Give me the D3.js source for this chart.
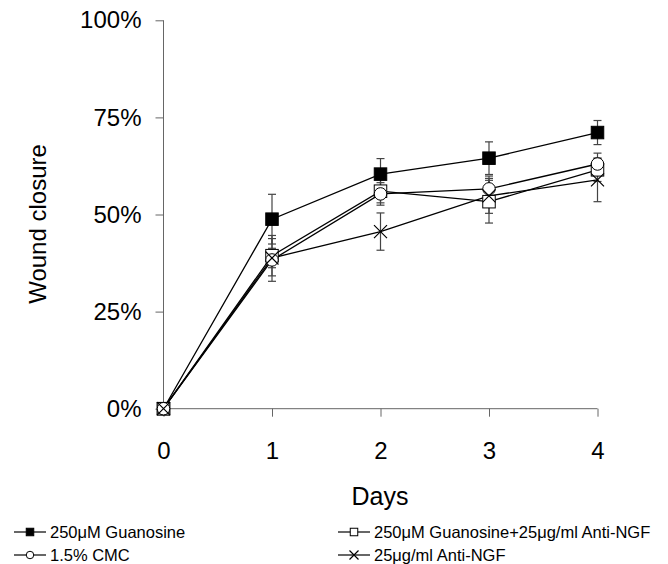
<!DOCTYPE html>
<html>
<head>
<meta charset="utf-8">
<script src="https://cdn.jsdelivr.net/npm/d3@7"></script>
<style>
  body { margin: 0; background: #fff; }
  text { font-family: "Liberation Sans", Arial, sans-serif; }
</style>
</head>
<body>
<div id="chart"></div>
<script>
// jours de mesure
var days = [0, 1, 2, 3, 4];
var yTicks = [0, 0.25, 0.5, 0.75, 1];

// valeurs moyennes (fraction de fermeture)
var guanosine = [0, 0.488, 0.604, 0.645, 0.711];
var guanosineErr = [0, 0.064, 0.040, 0.042, 0.031];
var guaAntiNgf = [0, 0.394, 0.560, 0.533, 0.615];
var guaAntiNgfErr = [0, 0.052, 0.030, 0.055, 0.030];
var cmc = [0, 0.383, 0.553, 0.566, 0.630];
var cmcErr = [0, 0.055, 0.029, 0.033, 0.028];
var antiNgf = [0, 0.388, 0.456, 0.548, 0.589];
var antiNgfErr = [0, 0.025, 0.048, 0.045, 0.056];

var seriesNames = ["250\u03bcM Guanosine", "250\u03bcM Guanosine+25\u03bcg/ml Anti-NGF", "1.5% CMC", "25\u03bcg/ml Anti-NGF"];
var seriesSymbols = ["fsquare", "osquare", "circle", "cross"];

var series = [
  {name: seriesNames[0], sym: seriesSymbols[0], vals: guanosine, err: guanosineErr},
  {name: seriesNames[1], sym: seriesSymbols[1], vals: guaAntiNgf, err: guaAntiNgfErr},
  {name: seriesNames[2], sym: seriesSymbols[2], vals: cmc, err: cmcErr},
  {name: seriesNames[3], sym: seriesSymbols[3], vals: antiNgf, err: antiNgfErr}
];

var W = 668, H = 564;
var x = d3.scaleLinear().domain([0, 4]).range([163.5, 597.5]);
var y = d3.scaleLinear().domain([0, 1]).range([408.7, 20.3]);
var axisCol = "#666";

var svg = d3.select("#chart").append("svg")
  .attr("width", W).attr("height", H);

// axe Y
var yAxis = svg.append("g")
  .attr("transform", "translate(" + x(0) + ",0)")
  .call(d3.axisLeft(y).tickValues(yTicks).tickSize(8).tickPadding(14)
    .tickFormat(d3.format(".0%")));
yAxis.selectAll("path").attr("stroke", axisCol).attr("d", "M0," + y(0) + "V" + y(1));
yAxis.selectAll("line").attr("stroke", axisCol);
yAxis.selectAll("text").attr("font-size", "24px").attr("fill", "#000")
  .attr("font-family", "Liberation Sans, Arial, sans-serif");

// axe X
var xAxis = svg.append("g")
  .attr("transform", "translate(0," + y(0) + ")")
  .call(d3.axisBottom(x).tickValues(days).tickSize(8).tickPadding(25)
    .tickFormat(d3.format("d")));
xAxis.selectAll("path").attr("stroke", axisCol).attr("d", "M" + x(0) + ",0H" + x(4));
xAxis.selectAll("line").attr("stroke", axisCol);
xAxis.selectAll("text").attr("font-size", "24px").attr("fill", "#000")
  .attr("font-family", "Liberation Sans, Arial, sans-serif");

// titres des axes
svg.append("text")
  .attr("x", 380).attr("y", 505)
  .attr("text-anchor", "middle")
  .attr("font-size", "25px")
  .text("Days");
svg.append("text")
  .attr("transform", "translate(46,224) rotate(-90)")
  .attr("text-anchor", "middle")
  .attr("font-size", "24px")
  .text("Wound closure");

function drawSymbol(g, sym, cx, cy, s) {
  var h = s / 2;
  if (sym == "fsquare" || sym == "osquare") {
    g.append("rect")
      .attr("x", cx - h).attr("y", cy - h)
      .attr("width", s).attr("height", s)
      .attr("fill", sym == "fsquare" ? "#000" : "#fff")
      .attr("stroke", "#000").attr("stroke-width", 1);
  } else if (sym == "circle") {
    g.append("circle")
      .attr("cx", cx).attr("cy", cy).attr("r", h)
      .attr("fill", "#fff")
      .attr("stroke", "#000").attr("stroke-width", 1);
  } else {
    g.append("path")
      .attr("d", "M" + (cx - h) + "," + (cy - h) + "L" + (cx + h) + "," + (cy + h) +
        "M" + (cx - h) + "," + (cy + h) + "L" + (cx + h) + "," + (cy - h))
      .attr("stroke", "#000").attr("stroke-width", 1.2);
  }
}

var plot = svg.append("g");
var line = d3.line().x(function(d, i) { return x(days[i]); }).y(function(d) { return y(d); });

// barres d'erreur
series.forEach(function(s) {
  var eb = plot.append("g").attr("stroke", "#444").attr("stroke-width", 1.2);
  s.vals.forEach(function(v, i) {
    if (!s.err[i]) return;
    var cx = x(days[i]), y1 = y(v + s.err[i]), y2 = y(v - s.err[i]);
    eb.append("line").attr("x1", cx).attr("x2", cx).attr("y1", y1).attr("y2", y2);
    eb.append("line").attr("x1", cx - 4).attr("x2", cx + 4).attr("y1", y1).attr("y2", y1);
    eb.append("line").attr("x1", cx - 4).attr("x2", cx + 4).attr("y1", y2).attr("y2", y2);
  });
});

// courbes
series.forEach(function(s) {
  plot.append("path")
    .attr("d", line(s.vals))
    .attr("fill", "none")
    .attr("stroke", "#000")
    .attr("stroke-width", 1.3);
});

// symboles
series.forEach(function(s) {
  var g = plot.append("g");
  s.vals.forEach(function(v, i) {
    drawSymbol(g, s.sym, x(days[i]), y(v), s.sym == "cross" ? 13 : 12.5);
  });
});

// legende
var legPos = [[14, 532], [338, 532], [14, 555], [338, 555]];
series.forEach(function(s, i) {
  var lx = legPos[i][0], ly = legPos[i][1];
  var g = svg.append("g");
  g.append("line").attr("x1", lx).attr("x2", lx + 32).attr("y1", ly).attr("y2", ly)
    .attr("stroke", "#000").attr("stroke-width", 1.2);
  drawSymbol(g, s.sym, lx + 16, ly, s.sym == "cross" ? 9 : 7.5);
  g.append("text")
    .attr("x", lx + 36).attr("y", ly + 5.5)
    .attr("font-size", "16.5px")
    .text(s.name);
});
</script>
</body>
</html>
